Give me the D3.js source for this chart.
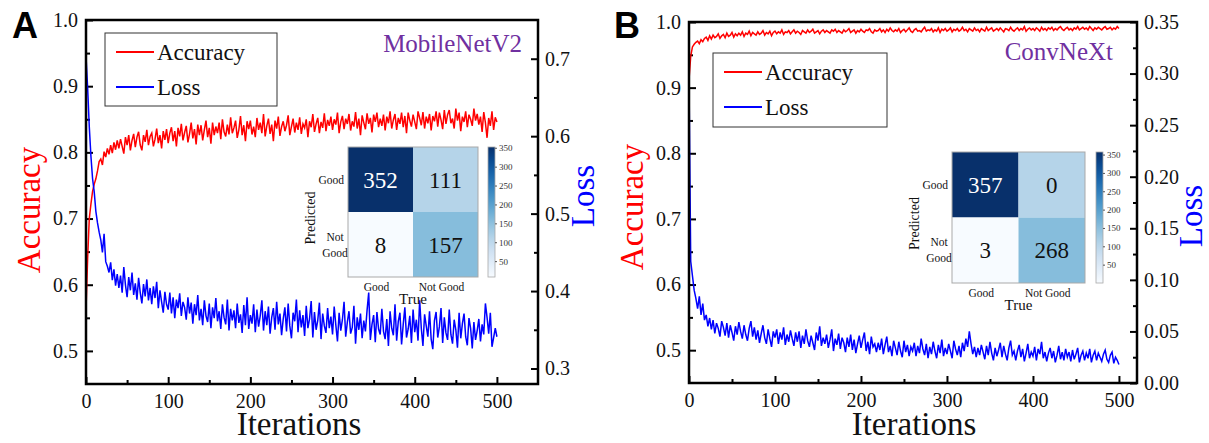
<!DOCTYPE html>
<html>
<head>
<meta charset="utf-8">
<script src="https://cdn.jsdelivr.net/npm/d3@7"></script>
<style>
  body { margin: 0; background: #fff; }
  svg { display: block; }
</style>
</head>
<body>
<div id="chart"></div>
<script>
const SERIF = '"Liberation Serif", "Times New Roman", serif';
const SANS = '"Liberation Sans", Arial, sans-serif';

// training log, one point every 2 iterations (0..500)
const iterations = d3.range(0, 501, 2);

// panel A, MobileNetV2 (values x1000)
const accA = [
  562,640,700,722,741,752,760,772,786,790, 781,801,793,806,797,811,799,815,804,818,
  806,820,809,798,823,811,826,803,818,828, 808,823,831,811,803,826,816,834,811,824,
  829,809,820,836,814,826,806,832,819,835, 814,829,838,817,832,809,837,824,843,818,
  830,840,815,828,845,821,835,812,842,826, 841,818,834,848,823,837,813,845,826,839,
  829,845,820,850,831,824,842,827,853,829, 837,848,822,834,855,826,841,817,847,835,
  848,827,839,823,852,834,845,829,858,824, 840,851,828,842,817,848,836,854,825,839,
  847,832,841,856,826,839,851,830,845,834, 853,828,843,837,850,823,847,838,858,831,
  843,852,829,846,837,859,832,849,840,854, 834,850,842,860,829,846,855,835,851,843,
  858,833,847,839,861,836,851,826,856,845, 835,859,843,852,830,857,846,860,838,851,
  840,857,833,854,844,862,836,849,858,834, 852,843,860,838,855,829,860,848,839,857,
  846,835,862,852,841,861,836,854,844,858, 833,855,847,862,839,860,849,835,864,843,
  857,864,844,851,836,866,848,860,832,854, 846,862,838,857,850,840,866,848,858,842,
  854,831,861,845,822,852,840,862,834,853, 846
];
const lossA = [
  703,662,612,574,545,528,503,488,476,466, 450,474,438,432,424,437,414,428,407,422,
  404,420,398,431,408,392,418,401,424,395, 410,389,417,398,384,409,393,415,388,404,
  383,406,391,412,378,401,386,372,399,383, 376,398,371,392,365,389,378,397,368,386,
  379,363,392,371,385,358,383,369,395,362, 377,356,388,368,360,384,352,379,365,391,
  361,374,351,383,366,357,389,349,377,362, 375,352,384,359,370,346,382,356,392,351,
  369,358,383,347,376,354,368,388,349,374, 356,380,345,366,378,350,386,357,371,343,
  364,379,348,384,355,339,372,361,389,347, 375,353,369,342,381,352,364,387,340,373,
  350,362,385,338,371,355,346,378,352,367, 344,380,356,335,372,349,363,386,341,360,
  374,345,353,381,332,366,350,371,339,362, 348,375,398,337,357,369,334,373,351,344,
  377,348,338,364,329,374,352,343,383,336, 361,372,331,357,379,340,351,368,333,376,
  347,363,336,388,352,329,370,355,341,374, 338,325,362,373,340,354,378,333,366,346,
  337,376,344,332,363,350,327,372,339,358, 371,341,330,365,352,326,360,337,349,364,
  335,357,344,384,366,345,372,328,340,352, 341
];

// panel B, ConvNeXt (values x1000)
const accB = [
  912,948,962,966,969,971,967,973,970,975, 977,972,979,974,980,976,978,982,975,979,
  981,976,983,978,980,984,977,982,979,983, 980,985,978,983,981,986,979,984,982,980,
  985,981,983,987,980,984,982,986,979,984, 986,982,985,983,988,981,985,984,987,982,
  985,988,983,986,984,981,987,985,983,988, 984,986,989,983,985,987,982,986,988,984,
  987,985,983,988,986,989,984,987,985,983, 988,985,987,990,984,986,988,983,987,985,
  989,986,984,988,987,990,985,983,988,986, 987,990,985,988,984,989,986,991,987,985,
  988,986,990,984,987,989,985,988,991,986, 984,988,990,986,987,985,989,992,986,988,
  987,990,985,988,986,991,984,989,987,990, 986,988,991,985,989,987,990,986,988,992,
  987,989,985,990,988,986,991,987,989,985, 990,988,986,992,987,989,991,986,988,990,
  987,991,988,985,990,989,987,992,988,986, 989,991,987,990,988,993,986,989,991,988,
  990,987,991,989,986,992,988,990,987,991, 989,992,987,990,988,991,993,989,987,990,
  992,988,990,987,991,989,993,988,990,992, 989,991,988,993,990,987,991,989,992,990,
  988,991,993,989,990,992,988,991,989,993, 990
];
const lossB = [
  295,118,104,90,82,72,84,66,77,61, 66,55,63,52,61,48,58,53,45,60,
  54,46,58,44,56,49,41,55,47,59, 50,43,56,47,41,53,60,45,54,42,
  51,39,48,56,44,38,52,43,35,50, 44,52,38,49,42,54,37,47,40,51,
  43,36,49,40,50,34,46,38,52,41, 35,46,39,32,49,41,55,36,44,38,
  47,34,42,52,31,43,37,48,33,44, 39,30,44,35,47,32,42,29,38,46,
  34,42,49,31,40,28,45,35,38,30, 39,32,43,28,37,45,30,36,26,41,
  34,27,40,31,25,41,30,37,26,35, 31,39,26,36,29,43,33,27,38,24,
  35,28,40,31,24,37,29,42,26,34, 28,38,31,24,41,33,27,36,25,39,
  31,43,35,50,38,28,35,25,34,27, 37,30,23,36,27,40,29,22,34,26,
  32,39,25,36,28,22,34,41,27,31, 22,31,37,25,33,21,29,38,24,30,
  26,35,22,33,28,40,24,30,21,29, 34,24,31,20,27,36,23,30,22,33,
  25,30,21,32,23,28,34,20,27,31, 22,29,24,33,20,27,31,22,29,25,
  21,28,32,23,20,27,30,19,25,22, 18
];

// confusion matrices (rows = predicted, cols = true)
const cmClasses = ['Good', 'Not Good'];
const cmA = [[352, 111], [8, 157]];
const cmB = [[357, 0], [3, 268]];
// the published ConvNeXt inset reuses the shading of the MobileNetV2 one
const cmShadeB = [[352, 111], [8, 157]];
const cbTicks = [50, 100, 150, 200, 250, 300, 350];

const xTicks = [0, 100, 200, 300, 400, 500];
const xMinor = [50, 150, 250, 350, 450];
const accTicks = [0.5, 0.6, 0.7, 0.8, 0.9, 1.0];
const accMinor = [0.55, 0.65, 0.75, 0.85, 0.95];

const panels = [
  {
    label: 'A', model: 'MobileNetV2', acc: accA, loss: lossA, cm: cmA, shade: cmA,
    box: {left: 86, top: 20, right: 538, bottom: 384}, xMax: 550,
    lossDomain: [0.28, 0.75], lossTicks: [0.3, 0.4, 0.5, 0.6, 0.7], lossMinor: [0.35, 0.45, 0.55, 0.65],
    lossFmt: '.1f',
    legend: {x: 105, y: 33, w: 172, h: 73},
    modelPos: [522, 52], labelPos: [12, 38],
    itersX: 299, accPos: [40, 210], lossPos: [594, 196],
    inset: {x: 348, y: 147, w: 130, h: 130, cbX: 488}
  },
  {
    label: 'B', model: 'ConvNeXt', acc: accB, loss: lossB, cm: cmB, shade: cmShadeB,
    box: {left: 689, top: 22, right: 1137, bottom: 383}, xMax: 521,
    lossDomain: [0, 0.35], lossTicks: [0, 0.05, 0.1, 0.15, 0.2, 0.25, 0.3, 0.35],
    lossMinor: [0.025, 0.075, 0.125, 0.175, 0.225, 0.275, 0.325],
    lossFmt: '.2f',
    legend: {x: 713, y: 53, w: 174, h: 74},
    modelPos: [1113, 60], labelPos: [614, 38],
    itersX: 914, accPos: [643, 207], lossPos: [1202, 216],
    inset: {x: 952, y: 152, w: 133, h: 131, cbX: 1096}
  }
];

const svg = d3.select('#chart').append('svg')
    .attr('width', 1209)
    .attr('height', 443)
    .attr('font-family', SERIF);

svg.append('rect').attr('width', 1209).attr('height', 443).attr('fill', '#fff');

panels.forEach(p => drawPanel(p));

function drawPanel(p) {
  const b = p.box;
  const g = svg.append('g').attr('font-family', SERIF);

  const x = d3.scaleLinear().domain([0, p.xMax]).range([b.left, b.right]);
  const yAcc = d3.scaleLinear().domain([0.45, 1.0]).range([b.bottom, b.top]);
  const yLoss = d3.scaleLinear().domain(p.lossDomain).range([b.bottom, b.top]);

  // minor ticks first (no labels), then major ticks with labels
  const addAxis = (axis, tx, ty) => {
    const a = g.append('g').attr('transform', `translate(${tx},${ty})`).call(axis);
    a.attr('font-family', SERIF).attr('font-size', 20);
    a.select('.domain').remove();
    a.selectAll('line').attr('stroke', '#000').attr('stroke-width', 2);
    a.selectAll('text').attr('fill', '#111');
    return a;
  };

  addAxis(d3.axisBottom(x).tickValues(xMinor).tickSize(-4).tickFormat(''), 0, b.bottom);
  addAxis(d3.axisBottom(x).tickValues(xTicks).tickSize(-7).tickPadding(10).tickFormat(d3.format('d')), 0, b.bottom);
  addAxis(d3.axisLeft(yAcc).tickValues(accMinor).tickSize(-4).tickFormat(''), b.left, 0);
  addAxis(d3.axisLeft(yAcc).tickValues(accTicks).tickSize(-7).tickPadding(8).tickFormat(d3.format('.1f')), b.left, 0);
  addAxis(d3.axisRight(yLoss).tickValues(p.lossMinor).tickSize(-4).tickFormat(''), b.right, 0);
  addAxis(d3.axisRight(yLoss).tickValues(p.lossTicks).tickSize(-7).tickPadding(7).tickFormat(d3.format(p.lossFmt)), b.right, 0);

  // curves
  const accLine = d3.line().x((d, i) => x(iterations[i])).y(d => yAcc(d / 1000));
  const lossLine = d3.line().x((d, i) => x(iterations[i])).y(d => yLoss(d / 1000));

  g.append('path').datum(p.acc)
      .attr('d', accLine)
      .attr('fill', 'none').attr('stroke', '#ff0000').attr('stroke-width', 1.5);
  g.append('path').datum(p.loss)
      .attr('d', lossLine)
      .attr('fill', 'none').attr('stroke', '#0000ff').attr('stroke-width', 1.5);

  // frame
  g.append('rect')
      .attr('x', b.left).attr('y', b.top)
      .attr('width', b.right - b.left).attr('height', b.bottom - b.top)
      .attr('fill', 'none').attr('stroke', '#000').attr('stroke-width', 2.5);

  // legend
  const lg = p.legend;
  const legend = g.append('g').attr('transform', `translate(${lg.x},${lg.y})`);
  legend.append('rect')
      .attr('width', lg.w).attr('height', lg.h)
      .attr('fill', '#fff').attr('stroke', '#333').attr('stroke-width', 1);
  [['Accuracy', '#ff0000'], ['Loss', '#0000ff']].forEach(([name, color], i) => {
    const yy = 19 + i * 35;
    legend.append('line')
        .attr('x1', 11).attr('x2', 49).attr('y1', yy).attr('y2', yy)
        .attr('stroke', color).attr('stroke-width', 2);
    legend.append('text')
        .attr('x', 52).attr('y', yy + 8)
        .attr('font-family', SERIF).attr('font-size', 23).attr('fill', '#111')
        .text(name);
  });

  g.append('text')
      .attr('x', p.modelPos[0]).attr('y', p.modelPos[1])
      .attr('text-anchor', 'end')
      .attr('font-family', SERIF).attr('font-size', 25).attr('fill', '#7030a0')
      .text(p.model);

  g.append('text')
      .attr('x', p.labelPos[0]).attr('y', p.labelPos[1])
      .attr('font-family', SANS)
      .attr('font-size', 36).attr('font-weight', 'bold').attr('fill', '#000')
      .text(p.label);

  // axis titles
  g.append('text')
      .attr('x', p.itersX).attr('y', 435)
      .attr('text-anchor', 'middle')
      .attr('font-family', SERIF).attr('font-size', 33).attr('fill', '#111')
      .text('Iterations');
  g.append('text')
      .attr('transform', `translate(${p.accPos[0]},${p.accPos[1]}) rotate(-90)`)
      .attr('text-anchor', 'middle')
      .attr('font-family', SERIF).attr('font-size', 33).attr('fill', '#ff0000')
      .text('Accuracy');
  g.append('text')
      .attr('transform', `translate(${p.lossPos[0]},${p.lossPos[1]}) rotate(-90)`)
      .attr('text-anchor', 'middle')
      .attr('font-family', SERIF).attr('font-size', 33).attr('fill', '#0000ff')
      .text('Loss');

  drawInset(g, p);
}

function drawInset(g, p) {
  const ins = p.inset;
  const flat = p.cm.flatMap((row, r) => row.map((v, c) => ({r, c, v, s: p.shade[r][c]})));
  const ext = d3.extent(flat, d => d.v);

  const col = d3.scaleBand().domain([0, 1]).range([ins.x, ins.x + ins.w]);
  const row = d3.scaleBand().domain([0, 1]).range([ins.y, ins.y + ins.h]);
  const color = d3.scaleSequential(d3.interpolateBlues).domain(d3.extent(flat, d => d.s));

  g.selectAll(null)
      .data(flat)
    .join('rect')
      .attr('x', d => col(d.c)).attr('y', d => row(d.r))
      .attr('width', col.bandwidth()).attr('height', row.bandwidth())
      .attr('fill', d => color(d.s));

  g.append('rect')
      .attr('x', ins.x).attr('y', ins.y).attr('width', ins.w).attr('height', ins.h)
      .attr('fill', 'none').attr('stroke', '#a9a9a9').attr('stroke-width', 1);

  g.selectAll(null)
      .data(flat)
    .join('text')
      .attr('x', d => col(d.c) + col.bandwidth() / 2)
      .attr('y', d => row(d.r) + row.bandwidth() / 2)
      .attr('dy', '0.35em')
      .attr('text-anchor', 'middle')
      .attr('font-family', SERIF).attr('font-size', 23)
      .attr('fill', d => d.s > 250 ? '#fff' : '#111')
      .text(d => d.v);

  // row labels
  g.append('text')
      .attr('x', ins.x - 4).attr('y', row(0) + row.bandwidth() / 2 + 4)
      .attr('text-anchor', 'end').attr('font-size', 11.5).attr('fill', '#111')
      .text(cmClasses[0]);
  const parts = cmClasses[1].split(' ');
  parts.forEach((t, i) => {
    g.append('text')
        .attr('x', ins.x - 13).attr('y', row(1) + row.bandwidth() / 2 - 4 + i * 16)
        .attr('text-anchor', 'middle').attr('font-size', 11.5).attr('fill', '#111')
        .text(t);
  });

  // column labels
  cmClasses.forEach((t, i) => {
    g.append('text')
        .attr('x', col(i) + col.bandwidth() / 2 - 4).attr('y', ins.y + ins.h + 13.5)
        .attr('text-anchor', 'middle').attr('font-size', 11.5).attr('fill', '#111')
        .text(t);
  });

  g.append('text')
      .attr('x', ins.x + ins.w / 2).attr('y', ins.y + ins.h + 26.5)
      .attr('text-anchor', 'middle').attr('font-size', 15).attr('fill', '#111')
      .text('True');
  g.append('text')
      .attr('transform', `translate(${ins.x - 33},${ins.y + ins.h / 2 + 6}) rotate(-90)`)
      .attr('text-anchor', 'middle').attr('font-size', 14).attr('fill', '#111')
      .text('Predicted');

  // colour bar
  const cbW = 7;
  const cbScale = d3.scaleLinear().domain(ext).range([ins.y + ins.h, ins.y]);
  const gradId = 'cb-' + p.label;
  const grad = svg.append('defs').append('linearGradient')
      .attr('id', gradId).attr('x1', 0).attr('x2', 0).attr('y1', 1).attr('y2', 0);
  grad.selectAll('stop')
      .data(d3.range(0, 1.01, 0.1))
    .join('stop')
      .attr('offset', d => d)
      .attr('stop-color', d => d3.interpolateBlues(d));

  g.append('rect')
      .attr('x', ins.cbX).attr('y', ins.y).attr('width', cbW).attr('height', ins.h)
      .attr('fill', `url(#${gradId})`).attr('stroke', '#a9a9a9').attr('stroke-width', 0.8);

  const cbAxis = g.append('g')
      .attr('transform', `translate(${ins.cbX + cbW},0)`)
      .call(d3.axisRight(cbScale).tickValues(cbTicks).tickSize(2).tickPadding(2));
  cbAxis.attr('font-family', SERIF).attr('font-size', 9);
  cbAxis.select('.domain').remove();
  cbAxis.selectAll('line').attr('stroke', '#555');
  cbAxis.selectAll('text').attr('fill', '#333');
}
</script>
</body>
</html>
